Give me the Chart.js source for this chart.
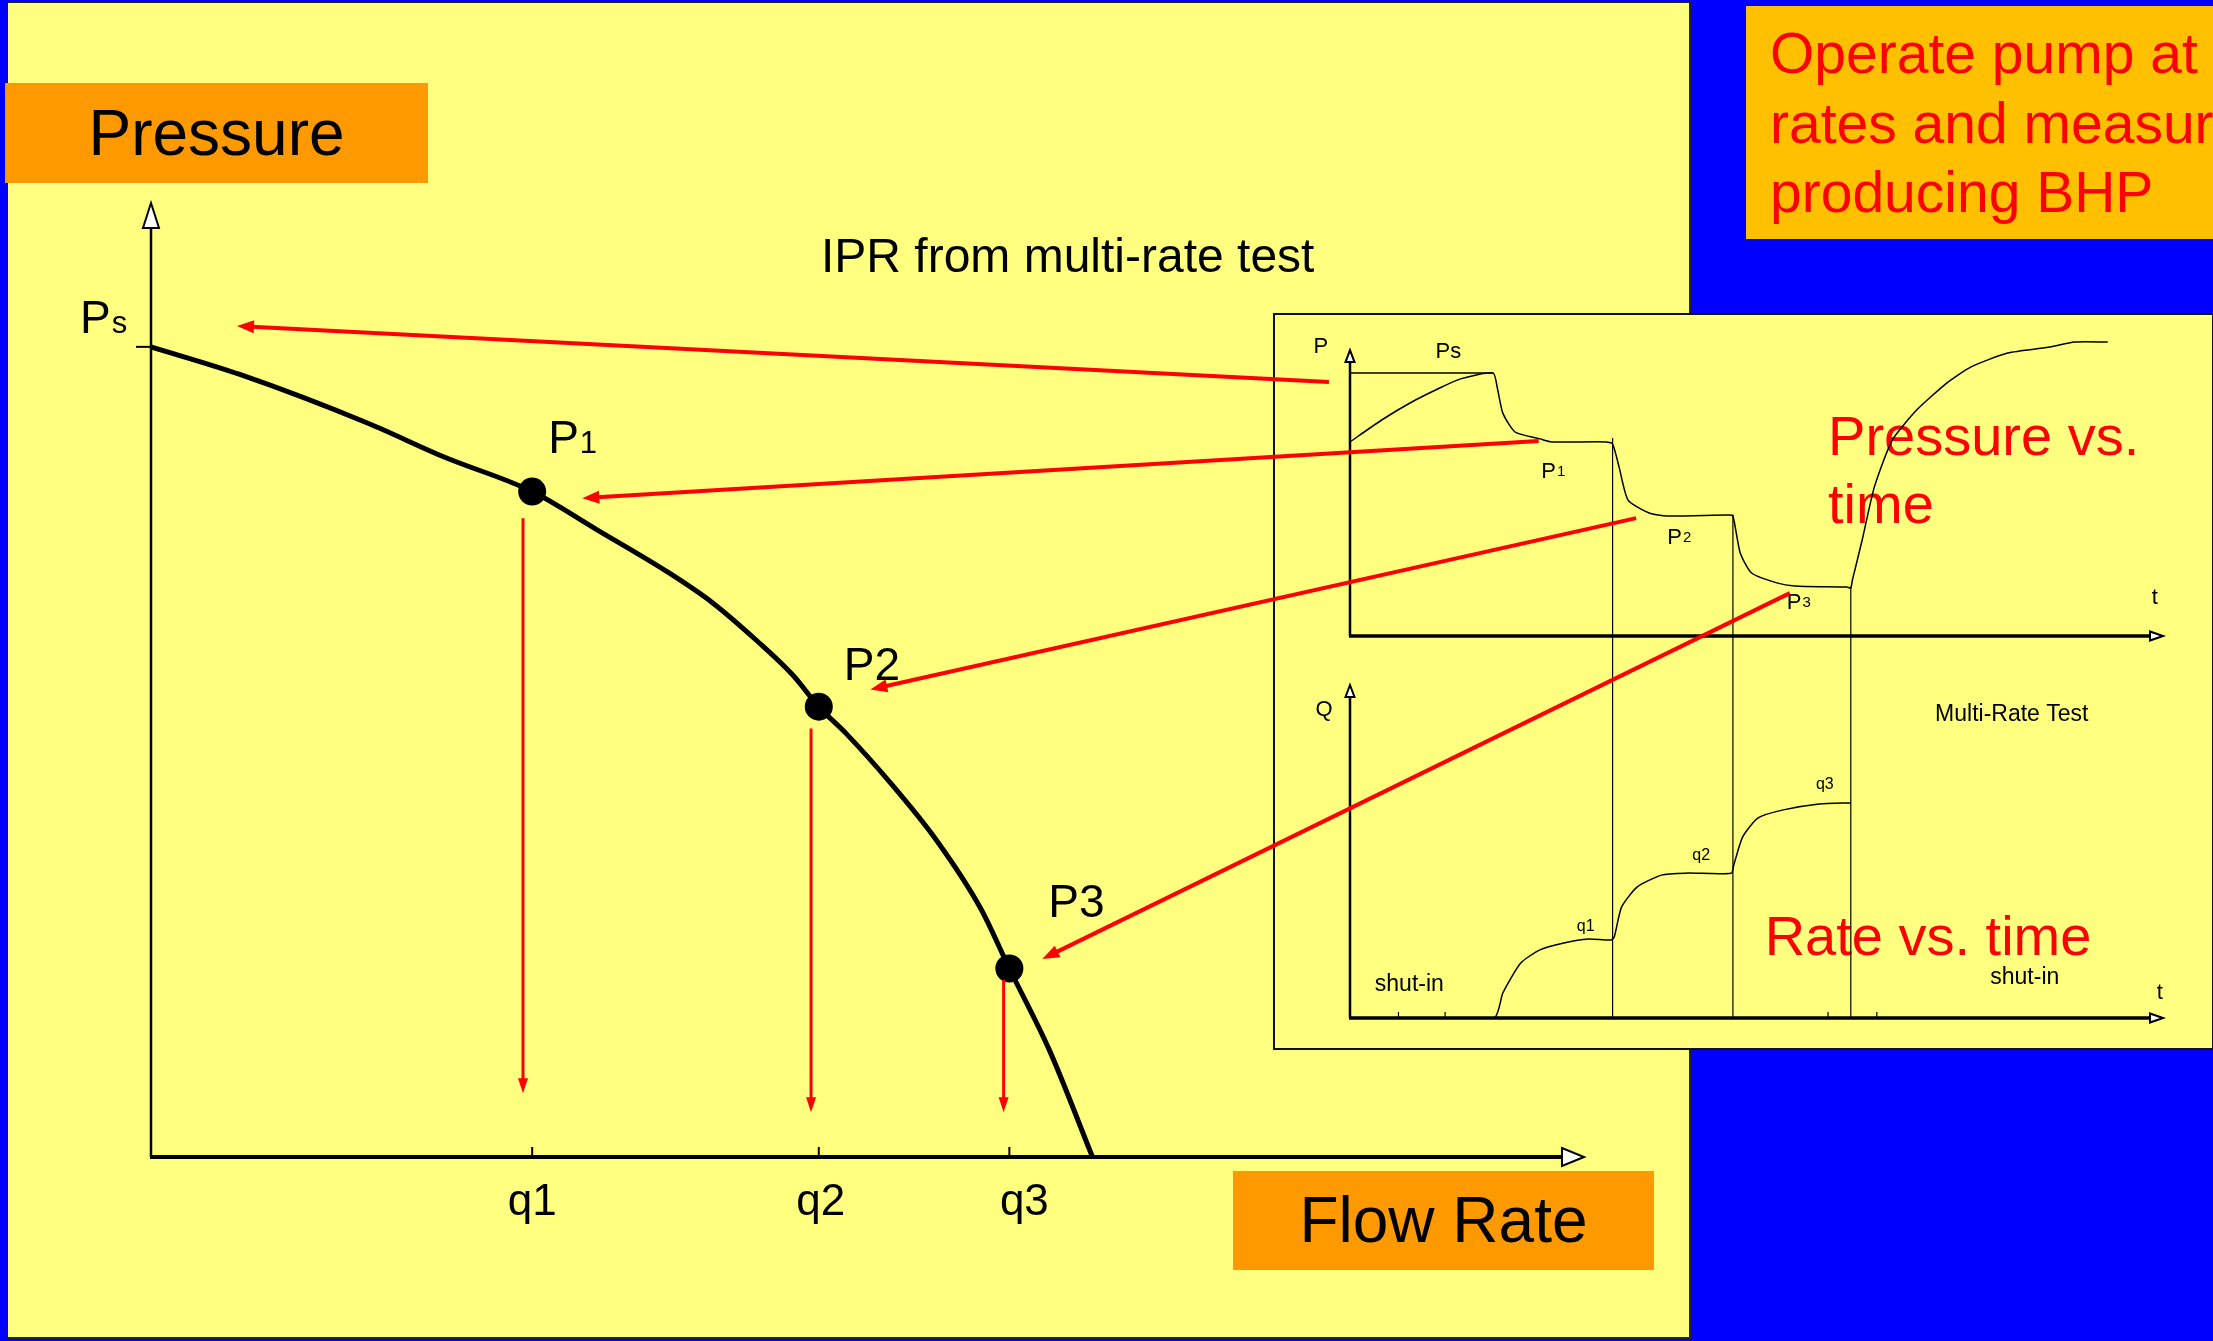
<!DOCTYPE html>
<html>
<head>
<meta charset="utf-8">
<script src="https://cdn.jsdelivr.net/npm/chart.js@4.4.1/dist/chart.umd.min.js"></script>
<style>
  html, body { margin: 0; padding: 0; }
  body { width: 2213px; height: 1341px; background: #0000ff; position: relative; overflow: hidden;
         font-family: "Liberation Sans", Arial, sans-serif; }
  .abs { position: absolute; }
  #panel { left: 8px; top: 1px; width: 1681px; height: 1334px; background: #ffff80;
           border-top: 2px solid #222; border-right: 2px solid #222; border-bottom: 2px solid #222; }
  .tag { background: #ff9900; color: #000; font-size: 64px; text-align: center; }
  #pressTag { left: 5px; top: 83px; width: 423px; height: 100px; line-height: 100px; }
  #rateTag { left: 1233px; top: 1171px; width: 421px; height: 99px; line-height: 99px; }
  #title { left: 821px; top: 226px; font-size: 48px; line-height: 60px; color: #000; white-space: nowrap; }
  #inset { left: 1273px; top: 313px; width: 937px; height: 733px; background: #ffff80; border: 2px solid #111; }
  #note { left: 1746px; top: 6px; width: 467px; height: 233px; background: #ffc000; color: #ff0000; overflow: hidden;
          font-size: 57px; line-height: 69.5px; padding: 13px 0 0 24px; box-sizing: border-box; white-space: nowrap; }
  canvas { position: absolute; }
</style>
</head>
<body>
<div id="panel" class="abs"></div>
<canvas id="iprChart" width="1700" height="1341" style="left:0;top:0;"></canvas>
<div id="pressTag" class="abs tag">Pressure</div>
<div id="rateTag" class="abs tag">Flow Rate</div>
<div id="title" class="abs">IPR from multi-rate test</div>
<div id="inset" class="abs"></div>
<canvas id="pressChart" width="939" height="360" style="left:1273px;top:313px;"></canvas>
<canvas id="rateChart" width="939" height="375" style="left:1273px;top:673px;"></canvas>
<canvas id="links" width="2213" height="1341" style="left:0;top:0;pointer-events:none;"></canvas>
<div id="note" class="abs">Operate pump at<br>rates and measure<br>producing BHP</div>

<script>
const FONT = '"Liberation Sans", Arial, sans-serif';

// IPR curve (flow rate vs pressure, arbitrary units 0-100)
const iprRate = [0, 6.2, 15.1, 20.5, 26.6, 31.1, 36.1, 39.2, 42.3, 44.8, 46.6, 48.5, 51.6, 54.8, 57.9, 59.9, 62.7, 65.7];
const iprPress = [85.1, 82.2, 77.1, 73.5, 69.9, 65.9, 61.4, 58.2, 54.2, 50.6, 47.3, 44.5, 39.3, 33.3, 26.1, 19.8, 11.2, 0];
const shutInPress = 85.1;
const testRate = [26.6, 46.6, 59.9];
const testPress = [69.9, 47.3, 19.8];
const rateTickLabels = ['q1', 'q2', 'q3'];
const pointLabels = [['P', '1'], ['P2', ''], ['P3', '']];

// multi-rate test: pressure vs time
const pTime = [0, 3.9, 7.6, 11.3, 13.6, 17.6, 18.1, 18.8, 20.3, 23.4, 24.8, 31.5, 32.3, 33.1, 34.2, 36.8, 39.0,
               46.5, 47.1, 48.0, 49.4, 52.5, 54.7, 61.1, 61.6, 61.8, 63.0, 64.5, 66.7, 69.7, 73.4, 76.4, 80.9, 86.1, 89.1, 93.2];
const pValue = [64.7, 72.0, 78.0, 83.0, 85.7, 87.7, 83.0, 74.3, 68.0, 65.7, 64.7, 64.7, 64.0, 56.3, 45.3, 41.0, 40.0,
                40.3, 40.0, 27.7, 21.0, 17.7, 16.7, 16.3, 16.0, 18.7, 32.0, 49.7, 65.3, 75.3, 84.3, 89.7, 94.3, 96.3, 98.0, 98.0];
const psLevel = 87.7;
const psEnd = 17.6;

// multi-rate test: rate vs time (drop to shut-in follows the third step line)
const qTime = [0, 17.7, 18.8, 21.0, 23.3, 26.3, 29.3, 32.1, 32.5, 33.4, 35.3, 38.3, 41.3, 46.9, 47.2, 48.3, 50.2, 53.3, 57.7, 61.6];
const qValue = [0, 0, 7.5, 16.5, 20.4, 22.5, 23.7, 23.4, 24.3, 33.3, 39.3, 42.9, 43.5, 43.5, 45.9, 54.4, 60.1, 62.5, 64.3, 64.6];
const stepTime = [32.3, 47.1, 61.6];
const stepTop = [66.0, 40.5, 16.5];
const timeTicks = [5.96, 11.7, 58.8, 64.8];

// red arrows: from the test plots to the IPR plot
const linkFromT = [-2.6, 23.2, 35.2, 54.1];
const linkFromP = [84.7, 65.0, 39.3, 14.3];
const linkToQ = [6.0, 30.1, 50.2, 62.2];
const linkToP = [87.3, 69.2, 49.1, 20.8];
// red arrows down to the rate axis
const dropQ = [25.96, 46.06, 59.5];
const dropFrom = [67.1, 45.0, 18.6];
const dropTo = [6.7, 4.7, 4.7];

function xy(xs, ys) { return xs.map((v, i) => ({ x: v, y: ys[i] })); }

function line(ctx, x1, y1, x2, y2) {
    ctx.beginPath(); ctx.moveTo(x1, y1); ctx.lineTo(x2, y2); ctx.stroke();
}

function hollowArrow(ctx, tx, ty, dx, dy, len, half) {
    const bx = tx - dx * len, by = ty - dy * len;
    ctx.beginPath();
    ctx.moveTo(tx, ty);
    ctx.lineTo(bx - dy * half, by + dx * half);
    ctx.lineTo(bx + dy * half, by - dx * half);
    ctx.closePath();
    ctx.fillStyle = '#fff';
    ctx.fill();
    ctx.lineWidth = 2;
    ctx.strokeStyle = '#000';
    ctx.stroke();
}

function redArrow(ctx, x1, y1, x2, y2, lw, len, half) {
    const d = Math.hypot(x2 - x1, y2 - y1);
    const ux = (x2 - x1) / d, uy = (y2 - y1) / d;
    const bx = x2 - ux * len, by = y2 - uy * len;
    ctx.strokeStyle = '#ff0000';
    ctx.fillStyle = '#ff0000';
    ctx.lineWidth = lw;
    line(ctx, x1, y1, bx + ux * 2, by + uy * 2);
    ctx.beginPath();
    ctx.moveTo(x2, y2);
    ctx.lineTo(bx - uy * half, by + ux * half);
    ctx.lineTo(bx + uy * half, by - ux * half);
    ctx.closePath();
    ctx.fill();
}

function subText(ctx, main, sub, x, y, size, subSize, align) {
    ctx.font = size + 'px ' + FONT;
    const w1 = ctx.measureText(main).width;
    ctx.font = subSize + 'px ' + FONT;
    const w2 = sub ? ctx.measureText(sub).width + 1 : 0;
    let left = x;
    if (align === 'center') left = x - (w1 + w2) / 2;
    ctx.textAlign = 'left';
    ctx.font = size + 'px ' + FONT;
    ctx.fillText(main, left, y);
    if (sub) {
        ctx.font = subSize + 'px ' + FONT;
        ctx.fillText(sub, left + w1 + 1, y);
    }
}

const iprDecor = {
    id: 'iprDecor',
    beforeDatasetsDraw(chart) {
        const { ctx, scales: { x, y } } = chart;
        const x0 = x.getPixelForValue(0), y0 = y.getPixelForValue(0);
        const yTop = y.getPixelForValue(100) - 2, xEnd = x.getPixelForValue(100);
        ctx.save();
        ctx.strokeStyle = '#000';
        ctx.lineWidth = 2.5;
        line(ctx, x0, y0, x0, yTop + 24);
        ctx.lineWidth = 4;
        line(ctx, x0 - 1, y0, xEnd - 20, y0);
        hollowArrow(ctx, x0, yTop, 0, -1, 25, 8);
        hollowArrow(ctx, xEnd, y0, 1, 0, 22, 9);
        // Ps tick and q ticks
        ctx.lineWidth = 2;
        const yPs = y.getPixelForValue(shutInPress);
        line(ctx, x0 - 15, yPs, x0, yPs);
        testRate.forEach(q => {
            const px = x.getPixelForValue(q);
            line(ctx, px, y0 - 10, px, y0);
        });
        ctx.restore();
    },
    afterDatasetsDraw(chart) {
        const { ctx, scales: { x, y } } = chart;
        const x0 = x.getPixelForValue(0), y0 = y.getPixelForValue(0);
        ctx.save();
        ctx.fillStyle = '#000';
        ctx.textBaseline = 'alphabetic';
        subText(ctx, 'P', 's', x0 - 71, y.getPixelForValue(shutInPress) - 14, 46, 31, 'left');
        const labelOff = [[16, -39], [25, -27], [39, -52]];
        const tickOff = [0, 2, 15];
        testRate.forEach((q, i) => {
            const px = x.getPixelForValue(q), py = y.getPixelForValue(testPress[i]);
            ctx.fillStyle = '#000';
            subText(ctx, pointLabels[i][0], pointLabels[i][1], px + labelOff[i][0], py + labelOff[i][1], 46, 31, 'left');
            ctx.font = '44px ' + FONT;
            ctx.textAlign = 'center';
            ctx.fillText(rateTickLabels[i], px + tickOff[i], y0 + 58);
        });
        dropQ.forEach((q, i) => {
            const px = x.getPixelForValue(q);
            redArrow(ctx, px, y.getPixelForValue(dropFrom[i]), px, y.getPixelForValue(dropTo[i]), 3, 15, 5);
        });
        ctx.restore();
    }
};

const insetDecor = {
    id: 'insetDecor',
    beforeDatasetsDraw(chart, args, opts) {
        const { ctx, scales: { x, y } } = chart;
        const x0 = x.getPixelForValue(0), y0 = y.getPixelForValue(0);
        const yTip = y.getPixelForValue(opts.tip), xEnd = x.getPixelForValue(100);
        ctx.save();
        // red caption
        ctx.fillStyle = '#ff0000';
        ctx.font = '56px ' + FONT;
        ctx.textAlign = 'left';
        opts.caption.forEach(c => ctx.fillText(c[0], x.getPixelForValue(c[1]), y.getPixelForValue(c[2])));
        ctx.strokeStyle = '#000';
        ctx.lineWidth = 2.5;
        line(ctx, x0, y0, x0, yTip + 11);
        ctx.lineWidth = 3.5;
        line(ctx, x0 - 1, y0, xEnd - 11, y0);
        hollowArrow(ctx, x0, yTip, 0, -1, 12, 4.5);
        hollowArrow(ctx, xEnd, y0, 1, 0, 13, 4.5);
        ctx.lineWidth = 1.2;
        (opts.ticks || []).forEach(t => {
            const px = x.getPixelForValue(t);
            line(ctx, px, y0 - 6, px, y0);
        });
        ctx.fillStyle = '#000';
        ctx.textBaseline = 'middle';
        opts.labels.forEach(l => {
            subText(ctx, l.text, l.sub || '', x.getPixelForValue(l.t), y.getPixelForValue(l.v), l.size, l.subSize || 15, 'center');
        });
        ctx.restore();
    }
};

const lineDefaults = { showLine: true, pointRadius: 0, borderColor: '#000', fill: false };
const hiddenScales = (ymax) => ({
    x: { type: 'linear', min: 0, max: 100, display: false },
    y: { type: 'linear', min: 0, max: ymax, display: false }
});

const iprChart = new Chart(document.getElementById('iprChart'), {
    type: 'scatter',
    data: {
        datasets: [
            { ...lineDefaults, data: xy(iprRate, iprPress), borderWidth: 5, cubicInterpolationMode: 'monotone' },
            { data: xy(testRate, testPress), pointRadius: 14, pointBackgroundColor: '#000', pointBorderWidth: 0, showLine: false }
        ]
    },
    options: {
        responsive: false, animation: false, devicePixelRatio: 1,
        layout: { padding: { left: 151, right: 116, top: 205, bottom: 184 } },
        plugins: { legend: { display: false }, tooltip: { enabled: false } },
        scales: hiddenScales(100)
    },
    plugins: [iprDecor]
});

const pressChart = new Chart(document.getElementById('pressChart'), {
    type: 'scatter',
    data: {
        datasets: [
            { ...lineDefaults, data: xy(pTime, pValue), borderWidth: 1.5, tension: 0.2 },
            { ...lineDefaults, data: [{ x: 0, y: psLevel }, { x: psEnd, y: psLevel }], borderWidth: 1.5 }
        ]
    },
    options: {
        responsive: false, animation: false, devicePixelRatio: 1,
        layout: { padding: { left: 77, right: 49, top: 23, bottom: 37 } },
        plugins: {
            legend: { display: false }, tooltip: { enabled: false },
            insetDecor: {
                tip: 95.3,
                caption: [['Pressure vs.', 58.8, 60.3], ['time', 58.8, 37.7]],
                labels: [
                    { text: 'P', t: -3.6, v: 96.3, size: 22 },
                    { text: 'Ps', t: 12.1, v: 94.7, size: 22 },
                    { text: 'P', sub: '1', t: 25.0, v: 54.8, size: 22 },
                    { text: 'P', sub: '2', t: 40.5, v: 32.7, size: 22 },
                    { text: 'P', sub: '3', t: 55.2, v: 11.0, size: 22 },
                    { text: 't', t: 99.0, v: 12.7, size: 22 }
                ]
            }
        },
        scales: hiddenScales(100)
    },
    plugins: [insetDecor]
});

const rateChart = new Chart(document.getElementById('rateChart'), {
    type: 'scatter',
    data: {
        datasets: [
            { ...lineDefaults, data: xy(qTime, qValue), borderWidth: 1.5, tension: 0.2 }
        ]
    },
    options: {
        responsive: false, animation: false, devicePixelRatio: 1,
        layout: { padding: { left: 77, right: 49, top: 12, bottom: 30 } },
        plugins: {
            legend: { display: false }, tooltip: { enabled: false },
            insetDecor: {
                tip: 100,
                ticks: timeTicks,
                caption: [['Rate vs. time', 51.0, 18.9]],
                labels: [
                    { text: 'Q', t: -3.2, v: 92.5, size: 22 },
                    { text: 'Multi-Rate Test', t: 81.4, v: 91.0, size: 23 },
                    { text: 'q1', t: 29.0, v: 27.3, size: 16 },
                    { text: 'q2', t: 43.2, v: 48.9, size: 16 },
                    { text: 'q3', t: 58.4, v: 70.0, size: 16 },
                    { text: 'shut-in', t: 7.3, v: 9.9, size: 23 },
                    { text: 'shut-in', t: 83.0, v: 12.0, size: 23 },
                    { text: 't', t: 99.6, v: 7.5, size: 22 }
                ]
            }
        },
        scales: hiddenScales(100)
    },
    plugins: [insetDecor]
});

// overlay: step lines and red arrows linking the charts
(function drawLinks() {
    const ctx = document.getElementById('links').getContext('2d');
    const pOff = [1273, 313], qOff = [1273, 673];
    const px = t => pOff[0] + pressChart.scales.x.getPixelForValue(t);
    const py = v => pOff[1] + pressChart.scales.y.getPixelForValue(v);
    const qy = v => qOff[1] + rateChart.scales.y.getPixelForValue(v);
    ctx.strokeStyle = '#000';
    ctx.lineWidth = 1.2;
    stepTime.forEach((t, i) => line(ctx, px(t), py(stepTop[i]), px(t), qy(0)));
    linkFromT.forEach((t, i) => {
        redArrow(ctx, px(t), py(linkFromP[i]),
            iprChart.scales.x.getPixelForValue(linkToQ[i]), iprChart.scales.y.getPixelForValue(linkToP[i]), 4, 17, 6.5);
    });
})();
</script>
</body>
</html>
